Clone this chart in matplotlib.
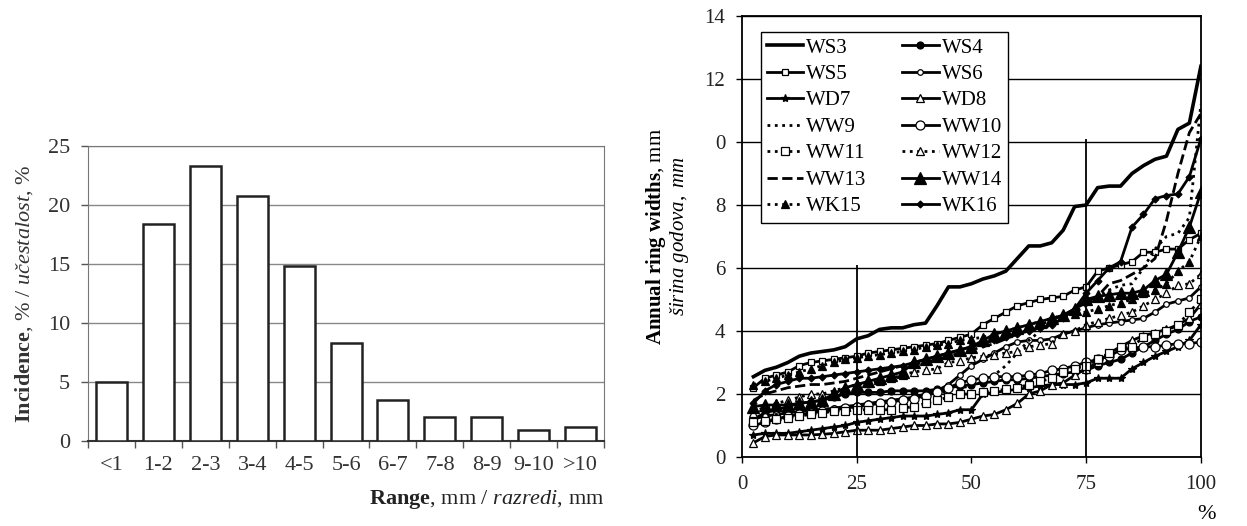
import numpy as np
import matplotlib
matplotlib.use("Agg")
import matplotlib.pyplot as plt

plt.rcParams['font.family'] = ['Liberation Serif', 'DejaVu Serif']
plt.rcParams['mathtext.fontset'] = 'custom'
plt.rcParams['mathtext.rm'] = 'Liberation Serif'
plt.rcParams['mathtext.it'] = 'Liberation Serif:italic'
plt.rcParams['mathtext.bf'] = 'Liberation Serif:bold'

# ---- left chart: incidence by ring width class ----
ranges = ['<1', '1-2', '2-3', '3-4', '4-5', '5-6', '6-7', '7-8', '8-9', '9-10', '>10']
incidence = [5.0, 18.4, 23.3, 20.8, 14.8, 8.3, 3.5, 2.0, 2.0, 0.9, 1.2]

# ---- right chart: cumulative ring widths per sample ----
pct = np.arange(2.5, 100.1, 2.5)

ws3 = [2.55, 2.75, 2.85, 3.0, 3.2, 3.3, 3.35, 3.4, 3.5, 3.75, 3.85, 4.05, 4.1, 4.1, 4.2, 4.25,
       4.8, 5.4, 5.4, 5.5, 5.65, 5.75, 5.9, 6.3, 6.7, 6.7, 6.8, 7.2, 7.95, 8.0,
       8.55, 8.6, 8.6, 9.0, 9.25, 9.45, 9.55, 10.4, 10.6, 12.4]
ws4 = [1.2, 1.4, 1.5, 1.6, 1.7, 1.75, 1.8, 1.9, 2.0, 2.05, 2.05, 2.05, 2.1, 2.1, 2.1, 2.1,
       2.15, 2.2, 2.25, 2.3, 2.35, 2.4, 2.45, 2.45, 2.5, 2.55, 2.6, 2.65, 2.7, 2.75,
       2.9, 3.0, 3.1, 3.3, 3.5, 3.7, 3.9, 4.05, 4.3, 4.45]
ws5 = [2.2, 2.5, 2.6, 2.7, 2.9, 3.0, 3.05, 3.1, 3.15, 3.2, 3.3, 3.35, 3.4, 3.45, 3.5, 3.55,
       3.6, 3.7, 3.8, 3.9, 4.2, 4.4, 4.6, 4.8, 4.9, 5.0, 5.05, 5.1, 5.3, 5.4,
       5.9, 6.0, 6.1, 6.2, 6.5, 6.5, 6.6, 6.6, 6.9, 7.1]
ws6 = [1.2, 1.3, 1.35, 1.4, 1.45, 1.5, 1.5, 1.55, 1.6, 1.65, 1.7, 1.75, 1.8, 1.85, 1.9, 2.0,
       2.1, 2.3, 2.6, 2.9, 3.1, 3.3, 3.5, 3.65, 3.7, 3.7, 3.75, 3.9, 4.0, 4.1,
       4.2, 4.25, 4.3, 4.35, 4.4, 4.6, 4.85, 4.95, 5.05, 5.4]
wd7 = [0.7, 0.75, 0.75, 0.75, 0.8, 0.85, 0.9, 0.95, 1.0, 1.1, 1.15, 1.2, 1.25, 1.3, 1.3, 1.3,
       1.35, 1.4, 1.5, 1.5, 2.0, 2.05, 2.1, 2.15, 2.2, 2.25, 2.3, 2.3, 2.3, 2.35,
       2.5, 2.5, 2.5, 2.8, 3.0, 3.2, 3.35, 3.5, 3.7, 4.2]
wd8 = [0.45, 0.65, 0.7, 0.7, 0.7, 0.7, 0.72, 0.75, 0.8, 0.85, 0.85, 0.85, 0.9, 0.95, 1.0, 1.0,
       1.05, 1.05, 1.1, 1.2, 1.3, 1.35, 1.5, 1.7, 2.0, 2.1, 2.3, 2.35, 2.6, 2.8,
       3.0, 3.3, 3.5, 3.7, 3.85, 3.95, 4.05, 4.2, 4.4, 4.85]
ww9 = [1.2, 1.3, 1.35, 1.4, 1.45, 1.5, 1.5, 1.55, 1.6, 1.6, 1.65, 1.7, 1.75, 1.8, 1.85, 1.9,
       2.0, 2.1, 2.2, 2.25, 2.4, 2.6, 2.9, 3.3, 3.7, 4.0, 4.2, 4.4, 4.6, 4.8,
       5.1, 5.3, 5.45, 5.5, 6.0, 6.6, 7.0, 7.1, 7.6, 11.2]
ww10 = [1.0, 1.1, 1.2, 1.3, 1.35, 1.4, 1.45, 1.5, 1.55, 1.6, 1.65, 1.7, 1.75, 1.8, 1.85, 1.95,
        2.05, 2.2, 2.35, 2.45, 2.5, 2.55, 2.55, 2.55, 2.6, 2.65, 2.75, 2.8, 2.9, 3.0,
        3.1, 3.2, 3.4, 3.45, 3.5, 3.5, 3.55, 3.6, 3.6, 3.65]
ww11 = [1.1, 1.15, 1.2, 1.25, 1.3, 1.35, 1.4, 1.45, 1.45, 1.5, 1.5, 1.5, 1.5, 1.55, 1.6, 1.7,
        1.8, 1.9, 2.0, 2.0, 2.05, 2.1, 2.15, 2.2, 2.3, 2.4, 2.5, 2.7, 2.8, 2.9,
        3.1, 3.3, 3.5, 3.5, 3.8, 3.9, 4.0, 4.2, 4.6, 5.0]
ww12 = [1.4, 1.6, 1.7, 1.8, 1.9, 2.0, 2.0, 2.1, 2.2, 2.3, 2.35, 2.4, 2.5, 2.6, 2.7, 2.75,
        2.8, 3.0, 3.05, 3.15, 3.2, 3.25, 3.3, 3.35, 3.5, 3.55, 3.6, 3.9, 4.0, 4.2,
        4.3, 4.4, 4.5, 4.6, 4.8, 5.0, 5.2, 5.45, 5.5, 5.8]
ww13 = [1.8, 2.0, 2.1, 2.2, 2.25, 2.3, 2.3, 2.35, 2.4, 2.5, 2.6, 2.7, 2.8, 2.9, 2.95, 3.0,
        3.1, 3.2, 3.3, 3.4, 3.5, 3.6, 3.75, 3.9, 4.05, 4.2, 4.35, 4.5, 4.7, 4.9,
        5.1, 5.5, 5.6, 5.8, 6.0, 6.3, 7.5, 9.0, 10.3, 10.9]
ww14 = [1.6, 1.65, 1.65, 1.65, 1.7, 1.75, 1.8, 2.0, 2.2, 2.3, 2.4, 2.5, 2.6, 2.7, 3.0, 3.1,
        3.2, 3.3, 3.4, 3.5, 3.7, 3.9, 4.0, 4.1, 4.2, 4.3, 4.4, 4.5, 4.7, 5.0,
        5.1, 5.15, 5.2, 5.2, 5.3, 5.6, 5.8, 6.5, 7.3, 8.4]
wk15 = [2.3, 2.4, 2.5, 2.6, 2.7, 2.8, 2.9, 3.0, 3.1, 3.15, 3.2, 3.25, 3.3, 3.35, 3.4, 3.5,
        3.55, 3.6, 3.7, 3.75, 3.8, 3.9, 4.0, 4.1, 4.2, 4.3, 4.4, 4.5, 4.55, 4.6,
        4.7, 4.8, 4.9, 5.0, 5.2, 5.3, 5.5, 5.9, 6.2, 7.0]
wk16 = [1.7, 2.1, 2.3, 2.4, 2.5, 2.5, 2.55, 2.6, 2.65, 2.7, 2.75, 2.8, 2.85, 2.9, 3.0, 3.1,
        3.2, 3.3, 3.4, 3.5, 3.6, 3.7, 3.8, 3.9, 4.0, 4.1, 4.2, 4.4, 4.7, 5.2,
        5.6, 6.0, 6.2, 7.3, 7.7, 8.2, 8.3, 8.35, 8.9, 10.1]

quart_x = [25, 75]
quart_top = [6.1, 10.1]

# name, values, linestyle, marker, marker size, marker face
series = [
    ('WS3', ws3, '-', None, 0, 'k'),
    ('WS4', ws4, '-', 'o', 5, 'k'),
    ('WS5', ws5, '-', 's', 4, 'white'),
    ('WS6', ws6, '-', 'o', 4, 'white'),
    ('WD7', wd7, '-', '*', 6, 'k'),
    ('WD8', wd8, '-', '^', 6, 'white'),
    ('WW9', ww9, ':', None, 0, 'k'),
    ('WW10', ww10, '-', 'o', 6.5, 'white'),
    ('WW11', ww11, ':', 's', 5.5, 'white'),
    ('WW12', ww12, ':', '^', 6, 'white'),
    ('WW13', ww13, '--', None, 0, 'k'),
    ('WW14', ww14, '-', '^', 8, 'k'),
    ('WK15', wk15, ':', '^', 5.5, 'k'),
    ('WK16', wk16, '-', 'D', 3.5, 'k'),
]

fig = plt.figure(figsize=(12.47, 5.26), dpi=100)

# left bar chart
ax1 = fig.add_axes([0.0706, 0.1616, 0.4138, 0.5608])
xpos = np.arange(len(ranges))
ax1.bar(xpos, incidence, width=0.66, color='white', edgecolor='#222222', linewidth=1.8, zorder=3)
ax1.set_xlim(-0.5, len(ranges) - 0.5)
ax1.set_ylim(0, 25)
ax1.set_yticks([0, 5, 10, 15, 20, 25])
ax1.set_xticks(xpos)
ax1.set_xticklabels(ranges)
ax1.set_xticks(np.arange(-0.5, len(ranges), 1.0), minor=True)
ax1.tick_params(axis='x', which='major', length=0, pad=11, labelsize=16, labelcolor='#333333')
ax1.tick_params(axis='x', which='minor', length=5, width=1, color='#555555', direction='out')
ax1.tick_params(axis='y', length=5, width=1, color='#555555', pad=8, labelsize=16, labelcolor='#333333')
ax1.grid(axis='y', color='#888888', linewidth=1, zorder=0)
for s in ['left', 'right', 'top']:
    ax1.spines[s].set_color('#777777')
ax1.spines['bottom'].set_color('#333333')
ax1.spines['bottom'].set_linewidth(1.5)
ax1.set_ylabel(r'$\mathbf{Incidence}$, % / $\mathit{učestalost}$, %', fontsize=16, labelpad=9, color='#333333')
ax1.set_xlabel(r'$\mathbf{Range}$, mm / $\mathit{razredi}$, mm', fontsize=16, loc='right', labelpad=9, color='#222222')

# right line chart
ax2 = fig.add_axes([0.595, 0.1312, 0.368, 0.8384])
for name, vals, ls, mk, ms, mfc in series:
    lw = 2.6 if name == 'WS3' else 2.0
    ax2.plot(pct, vals, linestyle=ls, color='k', linewidth=lw, marker=mk, markersize=ms,
             markerfacecolor=mfc, markeredgecolor='k', markeredgewidth=0.9, label=name)
ax2.vlines(quart_x, 0, quart_top, color='k', linewidth=1.3)
ax2.set_xlim(0, 100)
ax2.set_ylim(0, 14)
ax2.set_xticks([0, 25, 50, 75, 100])
ax2.set_yticks([0, 2, 4, 6, 8, 10, 12, 14])
ax2.set_yticklabels(['0', '2', '4', '6', '8', '0', '12', '14'])
ax2.grid(axis='y', color='k', linewidth=1)
ax2.tick_params(axis='both', length=4, width=1, labelsize=15, labelcolor='#222222')
ax2.tick_params(axis='x', pad=9)
ax2.tick_params(axis='y', pad=8)
for s in ax2.spines.values():
    s.set_linewidth(1.3)
ax2.set_ylabel('$\\mathbf{Annual\\ ring\\ widths}$, mm\n$\\mathit{širina\\ godova,\\ mm}$',
               fontsize=15, labelpad=10, linespacing=0.95)
ax2.text(1.012, -0.13, '%', transform=ax2.transAxes, fontsize=16, ha='center', va='center')

handles, labels = ax2.get_legend_handles_labels()
order = list(range(0, 14, 2)) + list(range(1, 14, 2))
leg = ax2.legend([handles[i] for i in order], [labels[i] for i in order], ncol=2,
                 loc='upper left', bbox_to_anchor=(0.018, 0.988), fontsize=15,
                 frameon=True, fancybox=False, framealpha=1, edgecolor='k',
                 handlelength=1.75, handletextpad=0.15, columnspacing=1.7,
                 labelspacing=0.33, borderpad=0.3)
leg.get_frame().set_linewidth(1.0)

fig.savefig('out.png', dpi=100)
